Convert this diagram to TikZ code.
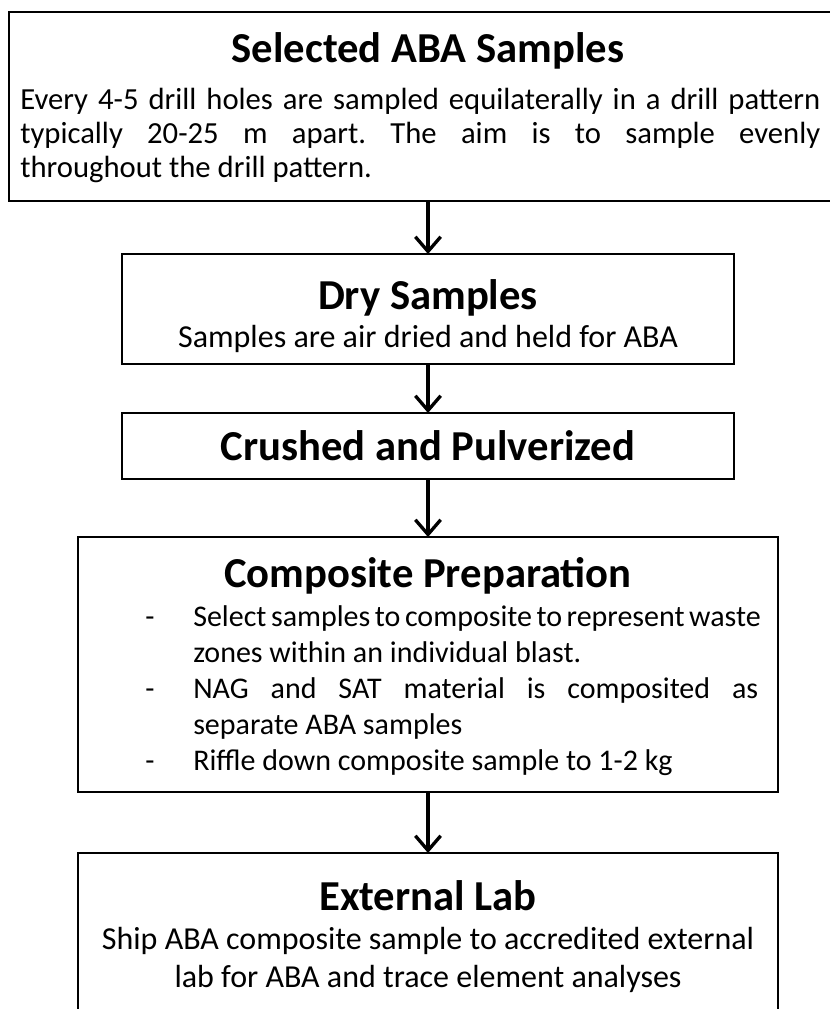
\documentclass[tikz,border=0pt]{standalone}
\usepackage{fontspec}
\setmainfont{Carlito}
\frenchspacing
\usetikzlibrary{arrows.meta,fit}
\begin{document}
\begin{tikzpicture}[x=0.75pt,y=-0.75pt,
  box/.style={draw, line width=1.5pt, inner sep=0pt, outer sep=0pt},
  flow/.style={line width=3pt, -{Straight Barb[length=11pt,width=19pt,line width=2.5pt]}},
  ttl/.style={font=\fontsize{32}{38}\selectfont\bfseries, inner sep=0pt, anchor=base},
  bodyc/.style={font=\fontsize{24}{29}\selectfont, inner sep=0pt, anchor=base},
  bodya/.style={font=\fontsize{23}{28}\selectfont, inner sep=0pt, anchor=base west},
  bodyl/.style={font=\fontsize{22.5}{27}\selectfont, inner sep=0pt, anchor=base west},
  bullet/.style={font=\fontsize{22.5}{27}\selectfont, inner sep=0pt, anchor=base}
]
\useasboundingbox (0,0) rectangle (830,1009);
% boxes
\node[box, fit={(9,12) (847,201)}] (b1) {};
\node[box, fit={(122,254) (734,364)}] (b2) {};
\node[box, fit={(122,413) (734,479)}] (b3) {};
\node[box, fit={(78,537) (778,792)}] (b4) {};
\node[box, fit={(78,853) (778,1060)}] (b5) {};
% connectors
\draw[flow] (b1.south) -- (b2.north);
\draw[flow] (b2.south) -- (b3.north);
\draw[flow] (b3.south) -- (b4.north);
\draw[flow] (b4.south) -- (b5.north);
% box 1
\node[ttl] (t1) at (428,63) {Selected ABA Samples};
\node[bodya] (l11) at (20,110) {\makebox[600pt][s]{Every 4-5 drill holes are sampled equilaterally in a drill pattern}};
\node[bodya] (l12) at (20,144) {\makebox[600pt][s]{typically 20-25 m apart. The aim is to sample evenly}};
\node[bodya] (l13) at (20,178) {throughout the drill pattern.};
% box 2
\node[ttl] (t2) at (428,309) {Dry Samples};
\node[bodyc] (l21) at (428,347) {Samples are air dried and held for ABA};
% box 3
\node[ttl] (t3) at (428,460) {Crushed and Pulverized};
% box 4
\node[ttl] (t4) at (428,587) {Composite Preparation};
\node[bullet] (d1) at (150,626) {-};
\node[bodyl] (l41) at (193,626) {\makebox[423.75pt][s]{Select samples to composite to represent waste}};
\node[bodyl] (l42) at (193,662) {zones within an individual blast.};
\node[bullet] (d2) at (150,698) {-};
\node[bodyl] (l43) at (193,698) {\makebox[423.75pt][s]{NAG and SAT material is composited as}};
\node[bodyl] (l44) at (193,734) {separate ABA samples};
\node[bullet] (d3) at (150,770) {-};
\node[bodyl] (l45) at (193,770) {Riffle down composite sample to 1-2 kg};
% box 5
\node[ttl] (t5) at (428,910) {External Lab};
\node[bodyc] (l51) at (428,949) {Ship ABA composite sample to accredited external};
\node[bodyc] (l52) at (428,987) {lab for ABA and trace element analyses};
\end{tikzpicture}
\end{document}
